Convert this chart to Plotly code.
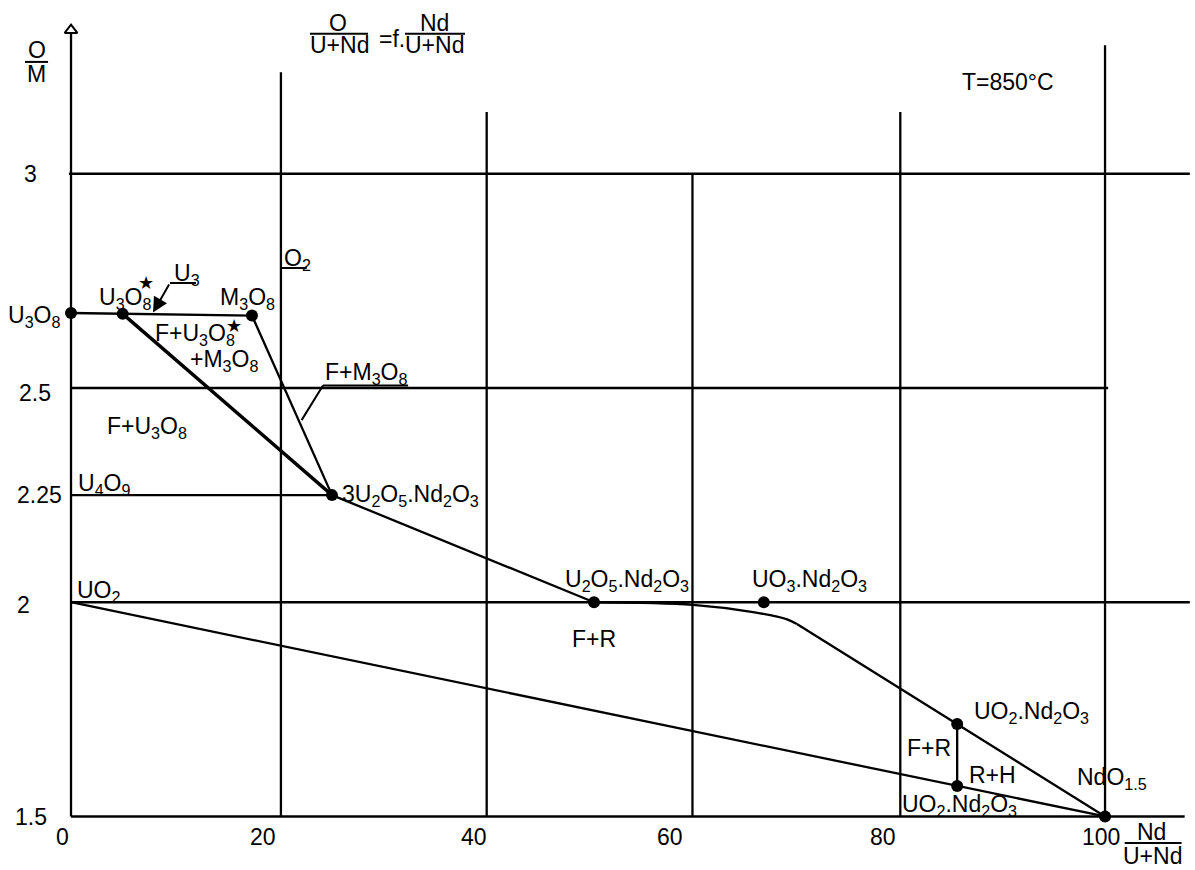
import plotly.graph_objects as go

# ---- axes ----------------------------------------------------------------
x_ticks = [0, 20, 40, 60, 80, 100]
x_tick_labels = ["0", "20", "40", "60", "80", "100"]
y_ticks = [1.5, 2, 2.25, 2.5, 3]
y_tick_labels = ["1.5", "2", "2.25", "2.5", "3"]

# vertical guide lines: position and top end (O/M)
vgrid_x = [20.3, 40.2, 60.1, 80.2, 100]
vgrid_top = [3.237, 3.144, 3.0, 3.144, 3.30]
# horizontal guide lines: O/M level, start and end composition
hgrid_y = [3.0, 2.5, 2.25, 2.0, 1.5]
hgrid_x0 = [-0.2, 0, 0, 0, 0]
hgrid_x1 = [108.2, 100.3, 25.24, 108.2, 107.7]
axis_top = 3.326

# ---- phases (Nd/(U+Nd) in %, O/M) -----------------------------------------
phase_x = [0, 5.0, 17.5, 25.24, 50.58, 67.0, 85.7, 85.7, 100]
phase_om = [2.675, 2.673, 2.669, 2.25, 2.0, 2.0, 1.716, 1.571, 1.5]

# ---- phase boundaries ---------------------------------------------------
top_tie_x = [0, 5.0, 17.5]
top_tie_om = [2.675, 2.673, 2.669]
heavy_x = [5.0, 25.24]
heavy_om = [2.673, 2.25]
m3o8_x = [17.5, 25.24]
m3o8_om = [2.669, 2.25]
mid_x = [25.24, 50.58]
mid_om = [2.25, 2.0]
bend_x = [50.58, 60.15, 65.96, 69.25, 70.2]
bend_om = [2.0, 1.994, 1.977, 1.960, 1.949]
fluorite_x = [70.2, 85.7, 100]
fluorite_om = [1.949, 1.716, 1.5]
uo2_x = [0, 85.7, 100]
uo2_om = [2.0, 1.571, 1.5]
tie_x = [85.7, 85.7]
tie_om = [1.716, 1.571]

FONT = "Liberation Sans, Arial, sans-serif"
FS = 23
LW = 2.3

fig = go.Figure()


def seg(xs, ys, width=LW, shape="linear"):
    fig.add_trace(go.Scatter(
        x=xs, y=ys, mode="lines", line=dict(color="black", width=width, shape=shape, smoothing=1.0),
        hoverinfo="skip", showlegend=False))


# guide lines
for gx, gt in zip(vgrid_x, vgrid_top):
    seg([gx, gx], [1.5, gt])
for gy, g0, g1 in zip(hgrid_y, hgrid_x0, hgrid_x1):
    seg([g0, g1], [gy, gy])

# O/M axis with open arrow head
seg([0, 0], [1.5, axis_top])
fig.add_trace(go.Scatter(
    x=[0], y=[axis_top + 0.009], mode="markers",
    marker=dict(symbol="triangle-up-open", size=11, color="black", line=dict(width=2)),
    hoverinfo="skip", showlegend=False))

# phase boundaries
seg(top_tie_x, top_tie_om)
seg(heavy_x, heavy_om, width=3.4)
seg(m3o8_x, m3o8_om)
seg(mid_x, mid_om)
seg(bend_x, bend_om, shape="spline")
seg(fluorite_x, fluorite_om)
seg(uo2_x, uo2_om)
seg(tie_x, tie_om)

# phase points
fig.add_trace(go.Scatter(
    x=phase_x, y=phase_om, mode="markers",
    marker=dict(size=12, color="black"), hoverinfo="skip", showlegend=False))

# ---- text ---------------------------------------------------------------
ann = []


def label(text, x, y, xanchor="left", yshift=0, size=FS):
    ann.append(dict(text=text, x=x, y=y, xref="x", yref="y", xanchor=xanchor,
                    yanchor="middle", showarrow=False, yshift=yshift,
                    font=dict(family=FONT, size=size, color="black")))


S = lambda t: "<sub>%s</sub>" % t

label("U" + S(3) + "O" + S(8), -0.87, 2.673, xanchor="right", yshift=-3)
label("U" + S(3) + "O" + S(8), 2.51, 2.717, yshift=-3)
label("★", 7.30, 2.744, xanchor="center", size=18)
label("U" + S(3), 9.77, 2.771, yshift=-3)
label("M" + S(3) + "O" + S(8), 14.22, 2.715, yshift=-3)
label("F+U" + S(3) + "O" + S(8), 7.93, 2.632, yshift=-3)
label("★", 15.76, 2.645, xanchor="center", size=18)
label("+M" + S(3) + "O" + S(8), 11.32, 2.571, yshift=-3)
label("O" + S(2), 20.4, 2.808, yshift=-3)
label("F+M" + S(3) + "O" + S(8), 24.37, 2.542, yshift=-3)
label("F+U" + S(3) + "O" + S(8), 3.29, 2.414, yshift=-3)
label("U" + S(4) + "O" + S(9), 0.48, 2.281, yshift=-3)
label("UO" + S(2), 0.39, 2.033, yshift=-3)
label("3U" + S(2) + "O" + S(5) + ".Nd" + S(2) + "O" + S(3), 26.0, 2.257, yshift=-3)
label("U" + S(2) + "O" + S(5) + ".Nd" + S(2) + "O" + S(3), 47.58, 2.057, yshift=-3)
label("UO" + S(3) + ".Nd" + S(2) + "O" + S(3), 65.67, 2.057, yshift=-3)
label("F+R", 48.26, 1.914)
label("UO" + S(2) + ".Nd" + S(2) + "O" + S(3), 87.14, 1.749, yshift=-3)
label("F+R", 80.66, 1.660)
label("R+H", 86.65, 1.597)
label("UO" + S(2) + ".Nd" + S(2) + "O" + S(3), 80.17, 1.532, yshift=-3)
label("NdO" + S("1.5"), 97.1, 1.595, yshift=-3)
label("T=850°C", 85.98, 3.215)

# tick labels
x_tick_anchor = ["right", "right", "right", "right", "right", "center"]
x_tick_pos = [0, 20.02, 40.43, 59.4, 80.0, 99.6]
for t, xp, xa in zip(x_tick_labels, x_tick_pos, x_tick_anchor):
    label(t, xp, 1.452, xanchor=xa)
y_tick_x = [-5.61, -5.42, -5.42, -5.22, -4.74]
y_tick_shift = [-1, -3, 0, -5, 0]
for t, v, xp, sh in zip(y_tick_labels, y_ticks, y_tick_x, y_tick_shift):
    label(t, xp, v, yshift=sh)

# fractions
label("O", -3.29, 3.288, xanchor="center")
label("M", -3.29, 3.232, xanchor="center")
label("O", 25.82, 3.351, xanchor="center")
label("U+Nd", 25.92, 3.300, xanchor="center")
label("=f.", 29.59, 3.314)
label("Nd", 35.2, 3.353, xanchor="center")
label("U+Nd", 35.2, 3.300, xanchor="center")
label("Nd", 104.5, 1.464, xanchor="center")
label("U+Nd", 104.6, 1.408, xanchor="center")

# leader arrow to the U3O8* solid solution edge
ann.append(dict(x=7.93, y=2.676, ax=9.57, ay=2.745, xref="x", yref="y", axref="x", ayref="y",
                text="", showarrow=True, arrowhead=2, arrowsize=1.5, arrowwidth=2,
                arrowcolor="black"))

shapes = []


def rule(x0, y0, x1, y1, w=2):
    shapes.append(dict(type="line", xref="x", yref="y", x0=x0, y0=y0, x1=x1, y1=y1,
                       line=dict(color="black", width=w)))


# fraction bars
rule(-4.45, 3.261, -2.22, 3.261)
rule(23.11, 3.327, 28.72, 3.327)
rule(32.3, 3.327, 38.1, 3.327)
rule(101.9, 1.438, 107.4, 1.438)
# underlines and leader lines
rule(9.57, 2.745, 12.09, 2.745)
rule(20.4, 2.780, 22.8, 2.780)
rule(24.37, 2.506, 32.6, 2.506)
rule(24.37, 2.506, 22.3, 2.425)

fig.update_layout(
    width=1195, height=870, autosize=False,
    margin=dict(l=0, r=0, t=0, b=0),
    paper_bgcolor="white", plot_bgcolor="white",
    xaxis=dict(range=[-6.867, 108.70], visible=False, fixedrange=True),
    yaxis=dict(range=[1.3751, 3.4055], visible=False, fixedrange=True),
    annotations=ann, shapes=shapes,
    font=dict(family=FONT, size=FS, color="black"),
)

fig.write_html("out.html")
